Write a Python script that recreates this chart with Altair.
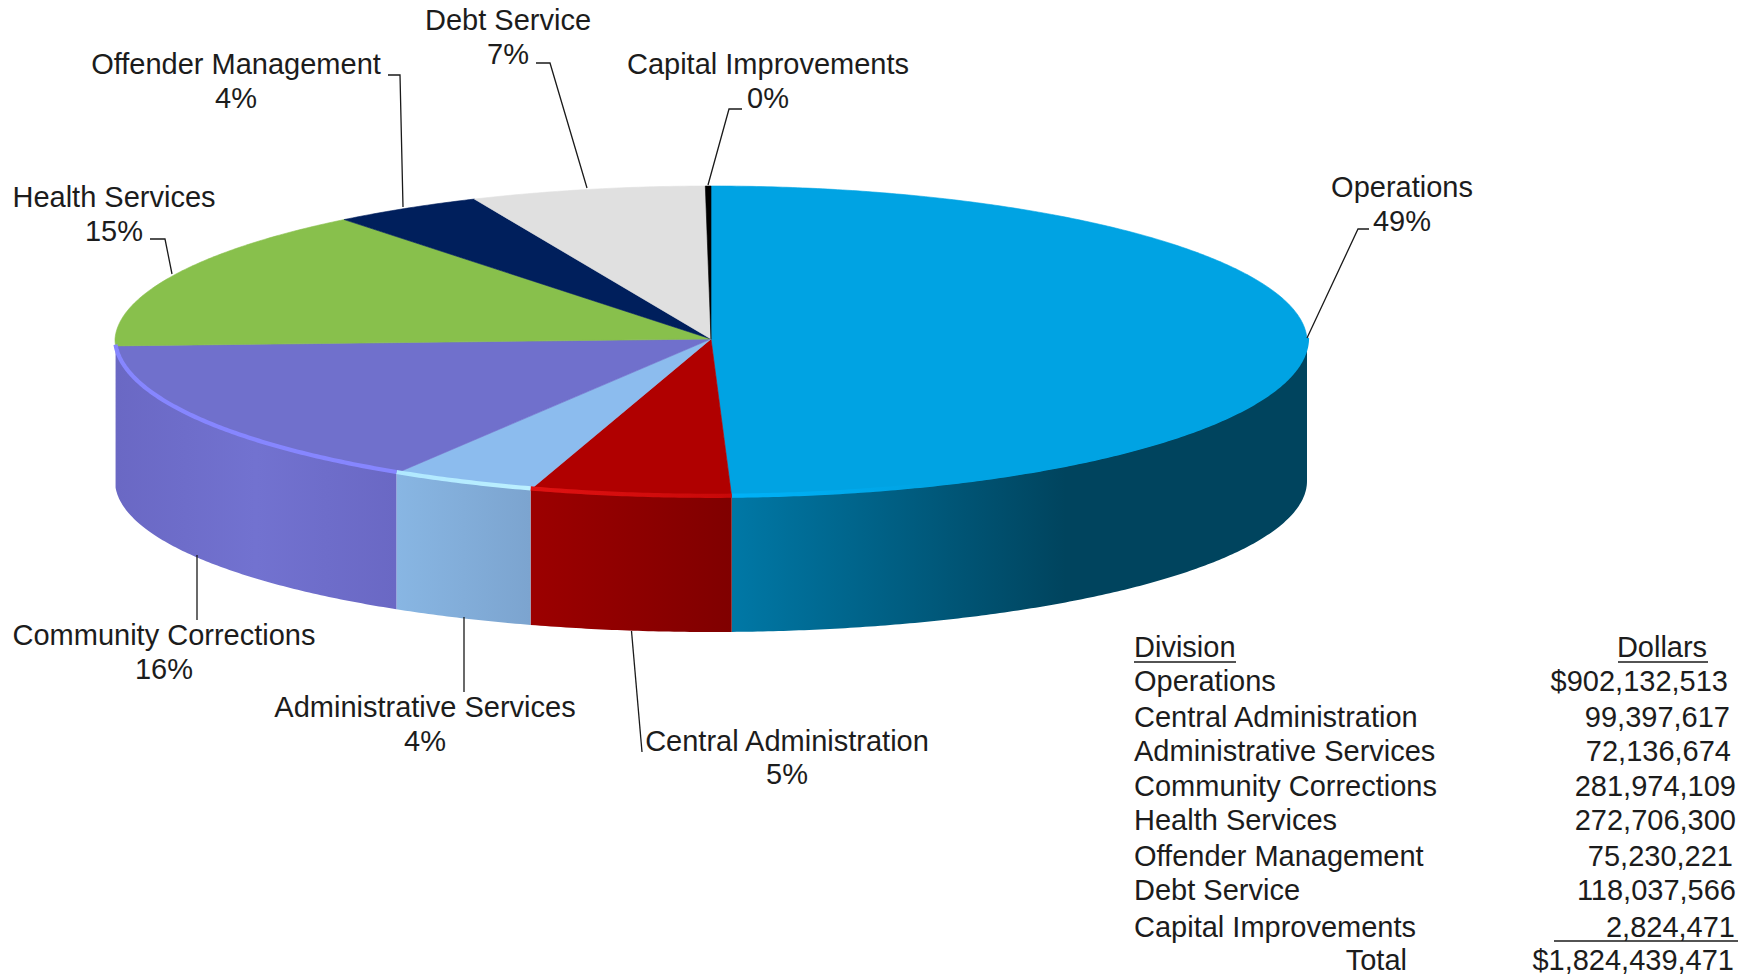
import math
import altair as alt

# ---------- values ----------
divisions = ["Operations", "Central Administration", "Administrative Services",
             "Community Corrections", "Health Services", "Offender Management",
             "Debt Service", "Capital Improvements"]
dollars = [902132513, 99397617, 72136674, 281974109, 272706300, 75230221, 118037566, 2824471]
dollar_labels = ["$902,132,513", "99,397,617", "72,136,674", "281,974,109", "272,706,300",
                 "75,230,221", "118,037,566", "2,824,471"]
percent_labels = ["49%", "5%", "4%", "16%", "15%", "4%", "7%", "0%"]
total_label = "$1,824,439,471"

# ---------- styles ----------
top_colors = ["#00a3e3", "#b00000", "#8cbcee", "#7070cc", "#88c04c", "#001f5c", "#e0e0e0", "#000000"]
wall_stops = {
    0: [("#0078a6", 0.0), ("#00445e", 0.58), ("#00445e", 1.0)],
    1: [("#9c0000", 0.0), ("#800000", 1.0)],
    2: [("#88b6e3", 0.0), ("#7ca4cf", 1.0)],
    3: [("#6a68c4", 0.0), ("#7272d0", 0.5), ("#6a68c4", 1.0)],
}
rim_stops = {
    0: [("#00b2f8", 0.0), ("#00a3e3", 0.35), ("#00a3e3", 1.0)],
    1: [("#e01212", 0.0), ("#c80808", 1.0)],
    2: [("#b0e8ff", 0.0), ("#bcf0ff", 1.0)],
    3: [("#8686ff", 0.0), ("#8686ff", 1.0)],
}
FONT = "Liberation Sans"
FS = 29
INK = "#1c1c1c"

# ---------- layout, in picture pixels ----------
W, H = 1736, 968
CX, CY, RX, RY_BACK, RY_FRONT = 711.0, 339.0, 596.0, 153.0, 158.0
FLOOR_Y, FLOOR_RY = 481.0, 151.0
BACK_SQUEEZE = 0.02

label_xy = [(1402, 188), (787, 742), (425, 708), (164, 636), (114, 198), (236, 65), (508, 21), (768, 65)]
pct_xy = [(1402, 222), (787, 775), (425, 742), (164, 670), (114, 232), (236, 99), (508, 55), (768, 99)]
leaders = [
    [(1369, 229), (1358, 229), (1307, 338)],
    [(631.5, 631), (642, 752)],
    [(464, 617), (464, 692)],
    [(197, 555), (197, 620)],
    [(150, 239), (165, 239), (172, 274)],
    [(388, 75), (400, 75), (403, 207)],
    [(536, 63), (550, 63), (587, 188)],
    [(742, 109), (729, 109), (708, 185)],
]
table_left = 1134
row_y = [682, 718, 752, 787, 821, 857, 891, 928]
row_right = [1728, 1730, 1731, 1736, 1736, 1733, 1736, 1735]
header_y = 648
total_y = 961
rules = [
    [(1134, 662), (1236, 662)],
    [(1618, 662), (1708, 662)],
    [(1554, 941), (1738, 941)],
]

x_enc = alt.X("x:Q", scale=alt.Scale(domain=[8, 8 + W], nice=False, zero=False), axis=None)
y_enc = alt.Y("y:Q", scale=alt.Scale(domain=[8 + H, 8], nice=False, zero=False), axis=None)


def gradient(stops):
    return alt.LinearGradient(
        gradient="linear", x1=0, x2=1, y1=0, y2=0,
        stops=[alt.GradientStop(color=c, offset=o) for c, o in stops],
    )


def rim(theta):
    c = math.cos(theta)
    return CY - (RY_BACK if c > 0 else RY_FRONT) * c


def span(theta):
    return CX + RX * math.sin(theta) / (1 + BACK_SQUEEZE * max(math.cos(theta), 0.0))


def theta_points(a0, a1, step=math.radians(0.5)):
    n = max(2, int(abs(a1 - a0) / step) + 1)
    return [a0 + (a1 - a0) * k / (n - 1) for k in range(n)]


total = sum(dollars)
edges = [0.0]
for d in dollars:
    edges.append(edges[-1] + d / total * 2 * math.pi)

layers = []

# side wall, front half only
for idx in wall_stops:
    a0 = max(edges[idx], math.pi / 2)
    a1 = min(edges[idx + 1], 3 * math.pi / 2)
    pts = [{"x": span(t), "y": rim(t),
            "yb": FLOOR_Y + FLOOR_RY * abs(math.cos(t))} for t in theta_points(a0, a1)]
    layers.append(
        alt.Chart(alt.Data(values=pts))
        .mark_area(color=gradient(wall_stops[idx]))
        .encode(x=x_enc, y=y_enc, y2=alt.Y2("yb:Q"))
    )

# top face
for idx, col in enumerate(top_colors):
    pts = [{"x": CX, "y": CY, "i": 0}]
    for j, t in enumerate(theta_points(edges[idx], edges[idx + 1])):
        pts.append({"x": span(t), "y": rim(t), "i": j + 1})
    pts.append({"x": CX, "y": CY, "i": len(pts)})
    layers.append(
        alt.Chart(alt.Data(values=pts))
        .mark_line(fill=col, stroke=col, strokeWidth=0.6, interpolate="linear")
        .encode(x=x_enc, y=y_enc, order=alt.Order("i:Q"))
    )

# light rim along the front edge
for idx in rim_stops:
    a0 = max(edges[idx], math.pi / 2)
    a1 = min(edges[idx + 1], 3 * math.pi / 2 - 0.03)
    pts = [{"x": span(t), "y": rim(t) - 1.2, "i": j}
           for j, t in enumerate(theta_points(a0, a1))]
    layers.append(
        alt.Chart(alt.Data(values=pts))
        .mark_line(color=gradient(rim_stops[idx]), strokeWidth=4.2, strokeCap="butt")
        .encode(x=x_enc, y=y_enc, order=alt.Order("i:Q"))
    )

# leader lines and table rules
for path in leaders + rules:
    pts = [{"x": p[0], "y": p[1], "i": j} for j, p in enumerate(path)]
    layers.append(
        alt.Chart(alt.Data(values=pts))
        .mark_line(color="#1a1a1a", strokeWidth=1.3)
        .encode(x=x_enc, y=y_enc, order=alt.Order("i:Q"))
    )


def text_layer(rows, align):
    return (
        alt.Chart(alt.Data(values=rows))
        .mark_text(font=FONT, fontSize=FS, color=INK, align=align, baseline="middle")
        .encode(x=x_enc, y=y_enc, text="t:N")
    )


center_rows = []
for name, pct, a, b in zip(divisions, percent_labels, label_xy, pct_xy):
    center_rows.append({"x": a[0], "y": a[1], "t": name})
    center_rows.append({"x": b[0], "y": b[1], "t": pct})
center_rows.append({"x": 1662, "y": header_y, "t": "Dollars"})
layers.append(text_layer(center_rows, "center"))

left_rows = [{"x": table_left, "y": header_y, "t": "Division"}]
left_rows += [{"x": table_left, "y": y, "t": n} for n, y in zip(divisions, row_y)]
layers.append(text_layer(left_rows, "left"))

right_rows = [{"x": x, "y": y, "t": t} for t, x, y in zip(dollar_labels, row_right, row_y)]
right_rows.append({"x": 1407, "y": total_y, "t": "Total"})
right_rows.append({"x": 1734, "y": total_y, "t": total_label})
layers.append(text_layer(right_rows, "right"))

chart = (
    alt.layer(*layers)
    .properties(width=W, height=H, padding=0, autosize=alt.AutoSizeParams(type="none"))
    .configure_view(stroke=None)
)
chart.save("out.html", embed_options={"renderer": "svg", "actions": False})
